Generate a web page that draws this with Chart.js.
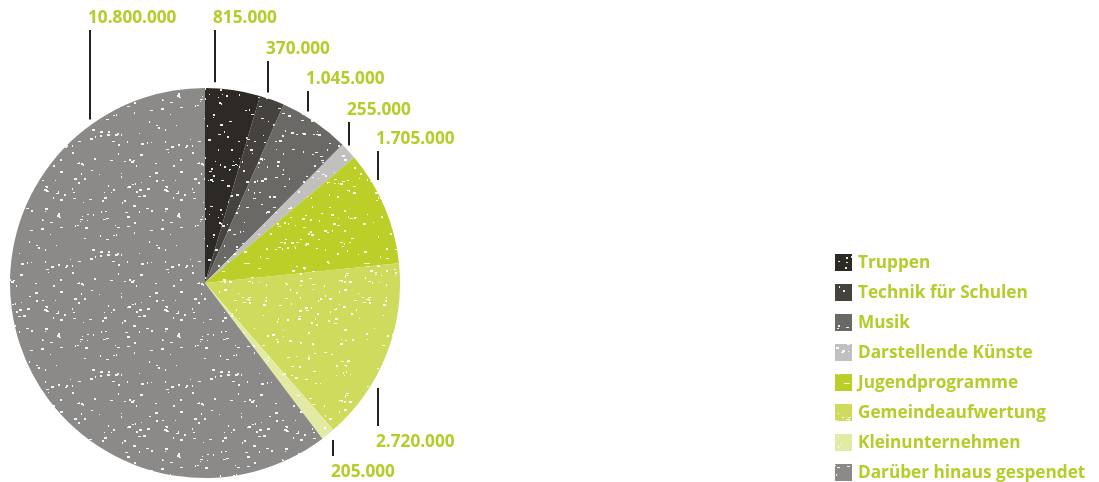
<!DOCTYPE html>
<html>
<head>
<meta charset="utf-8">
<script src="https://cdn.jsdelivr.net/npm/chart.js@4"></script>
<style>
  html, body { margin: 0; padding: 0; background: #fff; }
  #wrap { width: 1099px; height: 482px; position: relative; }
</style>
</head>
<body>
<div id="wrap"><canvas id="pie"></canvas></div>
<script>
// data
const categories = ["Truppen", "Technik für Schulen", "Musik", "Darstellende Künste",
  "Jugendprogramme", "Gemeindeaufwertung", "Kleinunternehmen", "Darüber hinaus gespendet"];
const amounts = [815000, 370000, 1045000, 255000, 1705000, 2720000, 205000, 10800000];
const valueLabels = ["815.000", "370.000", "1.045.000", "255.000", "1.705.000", "2.720.000", "205.000", "10.800.000"];

// styles
const colors = ["#2d2a26", "#46433f", "#6b6966", "#c1c0bf", "#bccf29", "#cfdb5d", "#e3eaa4", "#8b8a89"];
// leader line x offset from centre, label text y, side (-1 above / 1 below)
const labelPos = [
  { dx: 10, ty: 18, side: -1 },
  { dx: 63, ty: 49, side: -1 },
  { dx: 103, ty: 79, side: -1 },
  { dx: 144, ty: 110, side: -1 },
  { dx: 173, ty: 139, side: -1, gap: 13 },
  { dx: 173, ty: 442, side: 1, gap: 15 },
  { dx: 128, ty: 472, side: 1, gap: 10 },
  { dx: -115, ty: 18, side: -1 }
];
const green = "#b6cc2b";
const family = "'Open Sans'";

// speckle texture, deterministic
function speckle(color, seed) {
  const c = document.createElement("canvas");
  c.width = 120; c.height = 120;
  const g = c.getContext("2d");
  g.fillStyle = color;
  g.fillRect(0, 0, 120, 120);
  g.fillStyle = "rgba(255,255,255,0.9)";
  let s = seed;
  const next = () => { s = (s * 1103515245 + 12345) % 2147483648; return s / 2147483648; };
  for (let i = 0; i < 140; i++) {
    const x = Math.floor(next() * 120), y = Math.floor(next() * 120);
    const w = 1 + Math.floor(next() * 3), h = 1 + Math.floor(next() * 2);
    g.fillRect(x, y, w, h);
  }
  return g.createPattern(c, "repeat");
}
const patterns = colors.map((c, i) => speckle(c, 17 + i * 31));

// pick a font size so the longest legend entry is ~227px wide
function fitFont(ctx) {
  let size = 16;
  ctx.font = "bold " + size + "px " + family;
  const w = ctx.measureText(categories[7]).width;
  size = Math.max(12, Math.min(20, 16 * 227 / w));
  return "bold " + size.toFixed(1) + "px " + family;
}

const labelsPlugin = {
  id: "labelsPlugin",
  afterDraw(chart) {
    const ctx = chart.ctx;
    const arc = chart.getDatasetMeta(0).data[0];
    const cx = arc.x, cy = arc.y, r = arc.outerRadius;
    ctx.save();
    ctx.font = fitFont(ctx);
    ctx.textBaseline = "middle";
    ctx.textAlign = "left";
    valueLabels.forEach((t, i) => {
      const p = labelPos[i];
      const x = cx + p.dx;
      const edge = cy + p.side * Math.sqrt(r * r - p.dx * p.dx);
      const gap = p.gap || 6;
      const y1 = edge + p.side * gap;
      const y2 = p.side < 0 ? p.ty + 12 : p.ty - 16;
      ctx.strokeStyle = "#222";
      ctx.lineWidth = 2;
      ctx.beginPath();
      ctx.moveTo(x, y1);
      ctx.lineTo(x, y2);
      ctx.stroke();
      ctx.fillStyle = green;
      ctx.fillText(t, x - 2, p.ty);
    });
    // legend
    categories.forEach((name, i) => {
      const y = 262 + i * 30;
      ctx.fillStyle = patterns[i];
      ctx.fillRect(835, y - 8, 17, 17);
      ctx.fillStyle = green;
      ctx.fillText(name, 858, y + 1);
    });
    ctx.restore();
  }
};

new Chart(document.getElementById("pie"), {
  type: "pie",
  data: {
    labels: categories,
    datasets: [{
      data: amounts,
      backgroundColor: patterns,
      borderWidth: 0
    }]
  },
  options: {
    responsive: true,
    maintainAspectRatio: false,
    animation: false,
    layout: { padding: { left: 10, top: 88, right: 699, bottom: 4 } },
    plugins: {
      legend: { display: false },
      tooltip: { enabled: false }
    }
  },
  plugins: [labelsPlugin]
});
</script>
</body>
</html>
